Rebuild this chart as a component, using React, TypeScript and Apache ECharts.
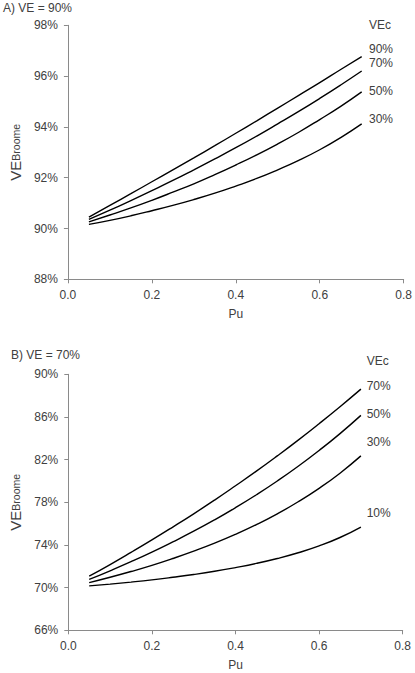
import React, { useEffect, useRef } from "react";
import * as echarts from "echarts";

// Pu values (x)
const pu = [0.05, 0.1, 0.15, 0.2, 0.25, 0.3, 0.35, 0.4, 0.45, 0.5, 0.55, 0.6, 0.65, 0.7];

// Panel A: VE = 90%
const a_vec90 = [90.45, 90.91, 91.37, 91.84, 92.31, 92.78, 93.26, 93.75, 94.24, 94.74, 95.24, 95.74, 96.26, 96.77];
const a_vec70 = [90.36, 90.72, 91.1, 91.49, 91.89, 92.31, 92.74, 93.18, 93.64, 94.12, 94.61, 95.12, 95.65, 96.2];
const a_vec50 = [90.26, 90.53, 90.81, 91.11, 91.43, 91.76, 92.12, 92.5, 92.9, 93.33, 93.79, 94.29, 94.81, 95.38];
const a_vec30 = [90.16, 90.32, 90.5, 90.7, 90.91, 91.14, 91.39, 91.67, 91.97, 92.31, 92.68, 93.1, 93.58, 94.12];

// Panel B: VE = 70%
const b_vec70 = [71.07, 72.16, 73.3, 74.47, 75.68, 76.92, 78.21, 79.55, 80.92, 82.35, 83.83, 85.37, 86.96, 88.61];
const b_vec50 = [70.77, 71.58, 72.43, 73.33, 74.29, 75.29, 76.36, 77.5, 78.71, 80.0, 81.38, 82.86, 84.44, 86.15];
const b_vec30 = [70.47, 70.97, 71.51, 72.09, 72.73, 73.42, 74.17, 75.0, 75.91, 76.92, 78.05, 79.31, 80.73, 82.35];
const b_vec10 = [70.16, 70.33, 70.52, 70.73, 70.97, 71.23, 71.53, 71.88, 72.27, 72.73, 73.27, 73.91, 74.7, 75.68];

const titleA = "A) VE = 90%";
const titleB = "B) VE = 70%";
const labelsA = ["90%", "70%", "50%", "30%"];
const labelsB = ["70%", "50%", "30%", "10%"];
const legendTitle = "VEc";
const xName = "Pu";

const FONT = "'Liberation Sans', Arial, sans-serif";
const TXT = "#404040";
const AX = "#8a8a8a";

const toPts = (ys: number[]) => pu.map((x, i) => [x, ys[i]]);

export default function App() {
  const ref = useRef<HTMLDivElement>(null);
  useEffect(() => {
    if (!ref.current) return;
    const chart = echarts.init(ref.current, undefined, { renderer: "svg" });

    const xAxisBase = (gridIndex: number) => ({
      type: "value",
      gridIndex,
      min: 0,
      max: 0.8,
      interval: 0.2,
      name: xName,
      nameLocation: "middle",
      nameGap: 29,
      nameTextStyle: { color: TXT, fontSize: 12, fontFamily: FONT },
      axisLine: { show: true, lineStyle: { color: AX, width: 1 } },
      axisTick: { show: true, length: 4, lineStyle: { color: AX } },
      axisLabel: {
        color: TXT,
        fontSize: 12,
        fontFamily: FONT,
        margin: 10,
        formatter: (v: number) => v.toFixed(1),
      },
      splitLine: { show: false },
    });

    const yAxisBase = (gridIndex: number, min: number, max: number, interval: number, gap: number) => ({
      type: "value",
      gridIndex,
      min,
      max,
      interval,
      name: "{a|VE}{b|Broome}",
      nameLocation: "middle",
      nameRotate: 90,
      nameGap: gap,
      nameTextStyle: {
        rich: {
          a: { fontSize: 15, color: TXT, fontFamily: FONT },
          b: { fontSize: 10.5, color: TXT, fontFamily: FONT },
        },
      },
      axisLine: { show: true, lineStyle: { color: AX, width: 1 } },
      axisTick: { show: true, length: 4, lineStyle: { color: AX } },
      axisLabel: {
        color: TXT,
        fontSize: 12,
        fontFamily: FONT,
        margin: 10,
        formatter: (v: number) => `${v}%`,
      },
      splitLine: { show: false },
    });

    const lineSeries = (data: number[], idx: number) => ({
      type: "line",
      xAxisIndex: idx,
      yAxisIndex: idx,
      data: toPts(data),
      smooth: true,
      showSymbol: false,
      lineStyle: { color: "#000", width: 1.4 },
    });

    const txt = (text: string, x: number, y: number) => ({
      type: "text",
      x,
      y,
      style: {
        text,
        fill: TXT,
        font: `12px ${FONT}`,
        textVerticalAlign: "middle",
        verticalAlign: "middle",
      },
    });

    const labelYA = [48.5, 62.5, 90.7, 118.5];
    const labelYB = [385.7, 414, 442.3, 512.7];

    chart.setOption({
      animation: false,
      backgroundColor: "#fff",
      grid: [
        { left: 62.3, right: 11, top: 25.3, height: 254, containLabel: false },
        { left: 68.3, right: 12.3, top: 374.3, height: 256, containLabel: false },
      ],
      xAxis: [xAxisBase(0), xAxisBase(1)],
      yAxis: [yAxisBase(0, 88, 98, 2, 43), yAxisBase(1, 66, 90, 4, 44)],
      series: [
        lineSeries(a_vec90, 0),
        lineSeries(a_vec70, 0),
        lineSeries(a_vec50, 0),
        lineSeries(a_vec30, 0),
        lineSeries(b_vec70, 1),
        lineSeries(b_vec50, 1),
        lineSeries(b_vec30, 1),
        lineSeries(b_vec10, 1),
      ],
      graphic: [
        txt(titleA, 3, 7.5),
        txt(titleB, 11, 355),
        txt(legendTitle, 369, 24.5),
        ...labelsA.map((l, i) => txt(l, 369, labelYA[i])),
        txt(legendTitle, 366.7, 361),
        ...labelsB.map((l, i) => txt(l, 366.7, labelYB[i])),
      ],
    });
    return () => chart.dispose();
  }, []);
  return (
    <div
      ref={ref}
      style={{ position: "absolute", left: 0, top: 0, width: 415, height: 673, background: "#fff" }}
    />
  );
}
